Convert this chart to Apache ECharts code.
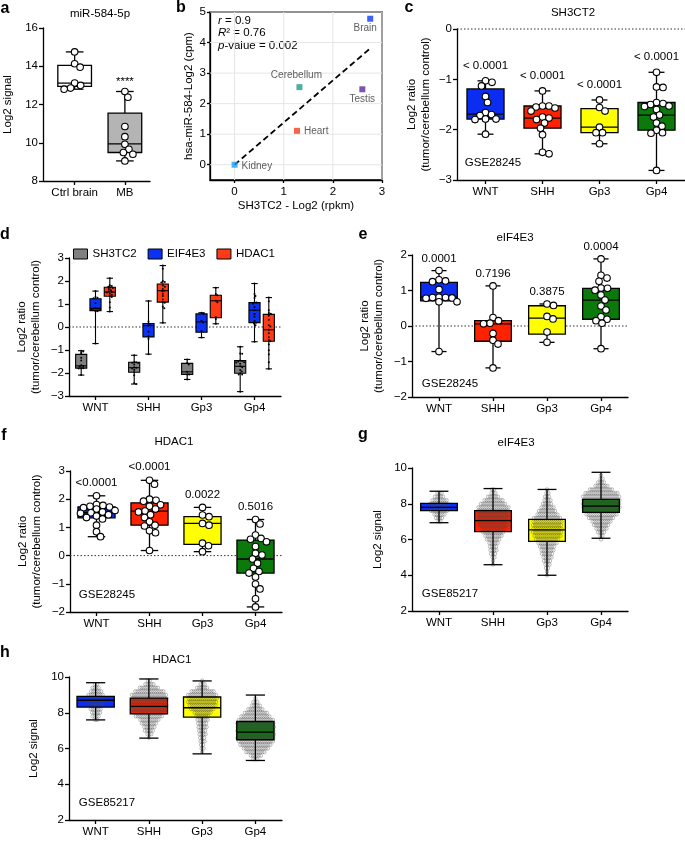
<!DOCTYPE html>
<html><head><meta charset="utf-8">
<script src="https://cdn.jsdelivr.net/npm/echarts@6/dist/echarts.min.js"></script>
<style>html,body{margin:0;padding:0;background:#fff}#c{width:685px;height:841px}</style>
</head><body><div id="c"></div><script>
// ---------------- data ----------------
const GROUPS = ['WNT', 'SHH', 'Gp3', 'Gp4'];

// a
const A_CATS = ['Ctrl brain', 'MB'];
const A_X = [0, 1];
const A_BOX = [[12.8, 12.95, 13.12, 14.05, 14.75], [9.05, 9.49, 9.94, 11.55, 12.68]];
const A_PTS = [[14.75, 14.13, 13.95, 13.12, 13.0, 12.86, 12.8], [12.68, 12.38, 10.85, 10.32, 9.92, 9.66, 9.49, 9.4, 9.05]];
const A_MARK = ['', '****'];

// b
const B_TISSUES = ['Brain', 'Cerebellum', 'Testis', 'Heart', 'Kidney'];
const B_X = [2.76, 1.32, 2.6, 1.27, 0];
const B_Y = [4.78, 2.54, 2.47, 1.11, 0];
const B_FIT_X = [0, 2.74];
const B_FIT_Y = [0, 3.78];
const B_TICKS_X = [0, 1, 2, 3];
const B_TICKS_Y = [0, 1, 2, 3, 4, 5];

// c  SH3TC2 (GSE28245)
const C_BOX = [[-2.09, -1.79, -1.69, -1.19, -1.03], [-2.48, -1.97, -1.77, -1.53, -1.23], [-2.28, -2.06, -1.95, -1.58, -1.41], [-2.81, -2.01, -1.71, -1.46, -0.86]];
const C_PTS = [
  [-1.03, -1.06, -1.13, -1.34, -1.46, -1.66, -1.7, -1.72, -1.79, -1.79, -1.8, -2.09],
  [-1.23, -1.53, -1.53, -1.55, -1.57, -1.63, -1.75, -1.77, -1.8, -1.87, -1.97, -2.1, -2.45, -2.48],
  [-1.41, -1.56, -1.63, -1.95, -2.06, -2.06, -2.28],
  [-0.86, -1.15, -1.16, -1.46, -1.48, -1.5, -1.53, -1.54, -1.6, -1.71, -1.75, -1.87, -1.93, -2.01, -2.06, -2.07, -2.81]];
const C_P = ['< 0.0001', '< 0.0001', '< 0.0001', '< 0.0001'];

// e  eIF4E3 (GSE28245)
const E_BOX = [[-0.72, 0.71, 0.81, 1.23, 1.56], [-1.18, -0.43, 0.06, 0.15, 1.13], [-0.46, -0.23, 0.22, 0.57, 0.62], [-0.64, 0.19, 0.73, 1.06, 1.89]];
const E_PTS = [
  [1.56, 1.3, 1.27, 1.25, 1.03, 0.81, 0.8, 0.8, 0.79, 0.78, 0.68, 0.68, -0.72],
  [1.13, 0.24, 0.15, 0.08, 0.06, -0.21, -0.4, -0.51, -1.18],
  [0.62, 0.58, 0.27, 0.2, -0.17, -0.46],
  [1.89, 1.43, 1.35, 1.26, 1.07, 1.06, 1.01, 0.87, 0.73, 0.56, 0.45, 0.26, 0.19, 0.15, 0.08, -0.64]];
const E_P = ['0.0001', '0.7196', '0.3875', '0.0004'];

// f  HDAC1 (GSE28245)
const F_BOX = [[0.67, 1.34, 1.52, 1.73, 2.12], [0.18, 1.08, 1.58, 1.87, 2.67], [0.14, 0.4, 1.14, 1.38, 1.71], [-1.82, -0.62, -0.12, 0.55, 1.28]];
const F_PTS = [
  [2.12, 1.81, 1.78, 1.75, 1.72, 1.7, 1.65, 1.6, 1.55, 1.52, 1.5, 1.45, 1.4, 1.35, 1.3, 1.08, 0.85, 0.67],
  [2.67, 2.53, 2.0, 1.96, 1.93, 1.8, 1.75, 1.65, 1.58, 1.55, 1.45, 1.35, 1.2, 1.08, 1.05, 0.88, 0.81, 0.18],
  [1.71, 1.44, 1.38, 1.14, 1.08, 0.44, 0.35, 0.14],
  [1.28, 1.12, 0.73, 0.61, 0.58, 0.49, 0.32, 0.08, 0.02, -0.12, -0.27, -0.45, -0.56, -0.62, -0.76, -1.01, -1.18, -1.53, -1.82]];
const F_P = ['<0.0001', '<0.0001', '0.0022', '0.5016'];

// d  combined
const D_GENES = ['SH3TC2', 'EIF4E3', 'HDAC1'];

// g  eIF4E3 (GSE85217): box stats + dot histogram (counts of samples per 0.2 bin)
const G_BOX = [[6.94, 7.61, 7.8, 8.02, 8.7], [4.59, 6.44, 7.06, 7.61, 8.85], [4.0, 5.89, 6.54, 7.13, 8.8], [6.07, 7.52, 7.87, 8.24, 9.76]];
const G_BINS = [9.6, 9.4, 9.2, 9.0, 8.8, 8.6, 8.4, 8.2, 8.0, 7.8, 7.6, 7.4, 7.2, 7.0, 6.8, 6.6, 6.4, 6.2, 6.0, 5.8, 5.6, 5.4, 5.2, 5.0, 4.8, 4.6, 4.4, 4.2, 4.0];
const G_COUNTS = [
  [0, 0, 0, 0, 0, 3, 5, 8, 10, 10, 9, 6, 4, 2, 0, 0, 0, 0, 0, 0, 0, 0, 0, 0, 0, 0, 0, 0, 0],
  [0, 0, 0, 0, 2, 3, 6, 10, 13, 16, 16, 16, 16, 16, 15, 13, 11, 9, 7, 5, 4, 4, 3, 2, 1, 1, 0, 0, 0],
  [0, 0, 0, 0, 1, 2, 3, 4, 5, 7, 9, 11, 14, 15, 15, 15, 15, 14, 12, 10, 8, 7, 6, 5, 4, 3, 2, 1, 1],
  [1, 2, 4, 7, 12, 17, 19, 19, 19, 19, 18, 16, 13, 10, 8, 6, 4, 2, 1, 0, 0, 0, 0, 0, 0, 0, 0, 0, 0]];

// h  HDAC1 (GSE85217)
const H_BOX = [[7.6, 8.32, 8.7, 8.92, 9.68], [6.58, 7.94, 8.36, 8.82, 9.89], [5.7, 7.76, 8.28, 8.88, 9.78], [5.33, 6.49, 6.92, 7.51, 8.99]];
const H_BINS = [9.8, 9.6, 9.4, 9.2, 9.0, 8.8, 8.6, 8.4, 8.2, 8.0, 7.8, 7.6, 7.4, 7.2, 7.0, 6.8, 6.6, 6.4, 6.2, 6.0, 5.8, 5.6, 5.4];
const H_COUNTS = [
  [0, 2, 4, 6, 8, 8, 8, 7, 6, 5, 4, 2, 0, 0, 0, 0, 0, 0, 0, 0, 0, 0, 0],
  [2, 5, 10, 15, 18, 18, 18, 18, 18, 17, 14, 10, 8, 6, 5, 3, 1, 0, 0, 0, 0, 0, 0],
  [1, 3, 6, 12, 15, 15, 15, 14, 12, 9, 7, 6, 5, 5, 4, 4, 3, 3, 2, 2, 1, 0, 0],
  [0, 0, 0, 0, 0, 1, 3, 5, 8, 12, 15, 18, 19, 19, 19, 19, 19, 18, 16, 13, 10, 6, 3]];

// ---------------- styles ----------------
const FONT = '"Liberation Sans", Arial, Helvetica, sans-serif';
const FS = 11.5;
const GROUP_COLORS = ['#0b2df2', '#ff2200', '#ffff00', '#0b7a0b'];
const A_COLORS = ['#ffffff', '#b4b4b4'];
const B_COLORS = ['#0b3cff', '#1f9c8c', '#5b2a9c', '#f2401c', '#1aa2f2'];
const B_LABEL = [
  {position: 'bottom', offset: [-5, -1]}, {position: 'top', offset: [-3, -1]},
  {position: 'bottom', offset: [0, -1]}, {position: 'right', offset: [1, 0]}, {position: 'right', offset: [1, 2]}];
const D_COLORS = ['#808080', '#0b32f2', '#ff3a14'];

const minus = v => String(v).replace('-', '\u2212');

function swarm(ys, minD, maxHalf) {
  const order = ys.map((y, i) => i).sort((a, b) => ys[a] - ys[b]);
  const placed = [];
  const xs = new Array(ys.length).fill(0);
  order.forEach(i => {
    let x = 0, found = false;
    for (let k = 0; k < 600; k++) {
      const c = k === 0 ? 0 : ((k % 2) ? 1 : -1) * Math.ceil(k / 2) * 0.5;
      if (Math.abs(c) > maxHalf) break;
      let ok = true;
      for (const p of placed) {
        const dx = c - p[0], dy = ys[i] - p[1];
        if (dx * dx + dy * dy < minD * minD) { ok = false; break; }
      }
      if (ok) { x = c; found = true; break; }
    }
    if (!found) x = 0;
    xs[i] = x; placed.push([x, ys[i]]);
  });
  return xs;
}

function boxSeries(o) {
  return {
    type: 'custom', name: o.name, xAxisIndex: o.axis, yAxisIndex: o.axis, z: 3, silent: true,
    itemStyle: {color: o.colors[0]},
    data: o.boxes.map((b, i) => [o.xs ? o.xs[i] : i].concat(b)),
    encode: {x: 0, y: [1, 2, 3, 4, 5]},
    renderItem: function (params, api) {
      const i = params.dataIndex;
      const xv = api.value(0);
      const band = api.size([1, 0])[0];
      const cx = api.coord([xv, 0])[0] + (o.offset || 0) * band;
      const Y = v => api.coord([xv, v])[1];
      const bw = o.boxFrac * band, cw = o.capFrac * band;
      const mn = api.value(1), q1 = api.value(2), md = api.value(3), q3 = api.value(4), mx = api.value(5);
      const lw = o.lineWidth || 1.3;
      const ch = [];
      const boxShape = {x: cx - bw / 2, y: Y(q3), width: bw, height: Y(q1) - Y(q3)};
      ch.push({type: 'rect', shape: boxShape, style: {fill: o.colors[i % o.colors.length]}});
      if (o.hist) {
        const counts = o.hist.counts[i];
        o.hist.bins.forEach((bv, j) => {
          const n = counts[j];
          const yy = Y(bv);
          const shift = (j % 2) ? o.hist.spacing / 2 : 0;
          for (let t = 0; t < n; t++) {
            ch.push({type: 'circle', shape: {cx: cx + (t - (n - 1) / 2) * o.hist.spacing + shift * (n > 1 ? 1 : 0) - shift / 2 * (n > 1 ? 1 : 0), cy: yy, r: o.hist.r},
              style: {fill: 'none', stroke: 'rgba(70,70,70,0.6)', lineWidth: 0.6}});
          }
        });
      }
      const L = (x1, y1, x2, y2) => ({type: 'line', shape: {x1: x1, y1: y1, x2: x2, y2: y2}, style: {stroke: '#000', lineWidth: lw}});
      ch.push(L(cx, Y(mx), cx, Y(q3)), L(cx, Y(q1), cx, Y(mn)),
        L(cx - cw / 2, Y(mx), cx + cw / 2, Y(mx)), L(cx - cw / 2, Y(mn), cx + cw / 2, Y(mn)));
      ch.push({type: 'rect', shape: boxShape, style: {fill: 'none', stroke: '#000', lineWidth: lw}});
      ch.push(L(cx - bw / 2, Y(md), cx + bw / 2, Y(md)));
      if (o.points) {
        const ys = o.points[i].map(Y);
        const xs = swarm(ys, o.dot.r * 2 * (o.dot.sep || 0.95), bw / 2);
        ys.forEach((yy, k) => ch.push({type: 'circle', shape: {cx: cx + xs[k], cy: yy, r: o.dot.r},
          style: {fill: o.dot.fill, stroke: o.dot.stroke, lineWidth: o.dot.lw}}));
      }
      if (o.labels && o.labels[i]) {
        ch.push({type: 'text', x: cx, y: Y(mx) - o.labelGap,
          style: {text: o.labels[i], align: 'center', verticalAlign: 'bottom', textAlign: 'center', textVerticalAlign: 'bottom',
            fontSize: o.labelSize || FS, fontFamily: FONT, fill: '#000'}});
      }
      return {type: 'group', children: ch};
    }
  };
}

function zeroLine(ax) {
  return {type: 'custom', xAxisIndex: ax, yAxisIndex: ax, z: 2, silent: true, data: [[0, 0]], encode: {x: 0, y: 1},
    renderItem: function (p, api) {
      const cs = p.coordSys; const y = api.coord([0, 0])[1];
      return {type: 'line', shape: {x1: cs.x, y1: y, x2: cs.x + cs.width, y2: y},
        style: {stroke: '#333', lineWidth: 1, lineDash: [1.5, 2]}};
    }};
}

const AXLINE = {show: true, onZero: false, lineStyle: {color: '#000', width: 1.3}};
const AXTICK = {show: true, length: 4, lineStyle: {color: '#000', width: 1.3}};
const LBL = {color: '#000', fontSize: FS, fontFamily: FONT};

function catX(gi) {
  return {type: 'category', gridIndex: gi, data: GROUPS, axisLine: AXLINE,
    axisTick: Object.assign({alignWithLabel: true}, AXTICK), axisLabel: Object.assign({margin: 6}, LBL), splitLine: {show: false}};
}
function valY(gi, min, max, interval, name, gap) {
  const ax = {type: 'value', gridIndex: gi, min: min, max: max, axisLine: AXLINE, axisTick: AXTICK,
    axisLabel: Object.assign({margin: 5, formatter: minus}, LBL), splitLine: {show: false},
    name: name, nameLocation: 'middle', nameGap: gap, nameTextStyle: {color: '#000', fontSize: FS, fontFamily: FONT, lineHeight: 14}};
  if (interval) ax.interval = interval;
  return ax;
}

const RATIO = 'Log2 ratio\n(tumor/cerebellum control)';
const grids = [
  {left: 42, top: 28, width: 108, height: 153},
  {left: 210, top: 12, width: 172, height: 168, show: true, borderColor: '#000', borderWidth: 1.3, backgroundColor: 'transparent'},
  {left: 457, top: 29, width: 228, height: 151},
  {left: 69, top: 258, width: 212, height: 138},
  {left: 412, top: 255, width: 216, height: 142},
  {left: 70, top: 471, width: 212, height: 141},
  {left: 412, top: 468, width: 216, height: 143},
  {left: 69, top: 677, width: 213, height: 143}
];

const xAxes = [
  {type: 'value', gridIndex: 0, min: -0.63, max: 1.5, axisLine: AXLINE,
    axisTick: Object.assign({customValues: A_X}, AXTICK),
    axisLabel: Object.assign({customValues: A_X, margin: 6, formatter: function (v) { return A_CATS[Math.round(v)] || ''; }}, LBL), splitLine: {show: false}},
  {type: 'value', gridIndex: 1, min: -0.5, max: 3, axisLine: AXLINE,
    axisTick: Object.assign({customValues: B_TICKS_X}, AXTICK, {length: 3}),
    axisLabel: Object.assign({customValues: B_TICKS_X, margin: 6}, LBL), splitLine: {show: false},
    name: 'SH3TC2 - Log2 (rpkm)', nameLocation: 'middle', nameGap: 20, nameTextStyle: {color: '#000', fontSize: FS, fontFamily: FONT}},
  catX(2), catX(3), catX(4), catX(5), catX(6), catX(7)
];
const yB = valY(1, -0.5, 5, null, 'hsa-miR-584-Log2 (cpm)', 14);
yB.axisTick = Object.assign({customValues: B_TICKS_Y}, AXTICK, {length: 3});
yB.axisLabel = Object.assign({customValues: B_TICKS_Y, margin: 4}, LBL);
const yAxes = [
  valY(0, 8, 16, 2, 'Log2 signal', 28),
  yB,
  valY(2, -3, 0, 1, RATIO, 24),
  valY(3, -3, 3, 1, RATIO, 26),
  valY(4, -2, 2, 1, RATIO, 26),
  valY(5, -2, 3, 1, RATIO, 26),
  valY(6, 2, 10, 2, 'Log2 signal', 27),
  valY(7, 2, 10, 2, 'Log2 signal', 28)
];

const BIGDOT = {r: 3.3, fill: '#fff', stroke: '#000', lw: 1.1};
const series = [];
// a
series.push(boxSeries({axis: 0, boxes: A_BOX, xs: A_X, points: A_PTS, colors: A_COLORS, boxFrac: 0.67, capFrac: 0.35,
  dot: BIGDOT, labels: A_MARK, labelGap: 4}));
// b
series.push({type: 'custom', xAxisIndex: 1, yAxisIndex: 1, z: 1, silent: true, data: [[0, 0]], encode: {x: 0, y: 1},
  renderItem: function (p, api) {
    const cs = p.coordSys; const ch = [];
    B_TICKS_X.forEach(function (v) { const x = api.coord([v, 0])[0]; ch.push({type: 'line', shape: {x1: x, y1: cs.y, x2: x, y2: cs.y + cs.height}, style: {stroke: '#e6e6e6', lineWidth: 1}}); });
    B_TICKS_Y.forEach(function (v) { const y = api.coord([0, v])[1]; ch.push({type: 'line', shape: {x1: cs.x, y1: y, x2: cs.x + cs.width, y2: y}, style: {stroke: '#e6e6e6', lineWidth: 1}}); });
    return {type: 'group', children: ch};
  }});
series.push({type: 'line', xAxisIndex: 1, yAxisIndex: 1, z: 3, symbol: 'none', silent: true,
  data: B_FIT_X.map(function (x, i) { return [x, B_FIT_Y[i]]; }),
  lineStyle: {color: '#000', width: 1.8, type: [6, 3.5]}});
series.push({type: 'scatter', xAxisIndex: 1, yAxisIndex: 1, z: 4, symbol: 'rect', symbolSize: 6, silent: true,
  data: B_X.map(function (x, i) {
    return {value: [x, B_Y[i]], name: B_TISSUES[i], itemStyle: {color: B_COLORS[i]},
      label: Object.assign({show: true, formatter: '{b}', color: '#333', fontSize: 10, fontFamily: FONT, distance: 3}, B_LABEL[i])};
  })});
// c
series.push(zeroLine(2));
series.push(boxSeries({axis: 2, boxes: C_BOX, points: C_PTS, colors: GROUP_COLORS, boxFrac: 0.65, capFrac: 0.28,
  dot: BIGDOT, labels: C_P, labelGap: 9}));
// d
const D_BOXES = [C_BOX, E_BOX, F_BOX];
const D_PTS = [C_PTS, E_PTS, F_PTS];
series.push(zeroLine(3));
[0, 1, 2].forEach(function (k) {
  series.push(boxSeries({axis: 3, name: D_GENES[k], boxes: D_BOXES[k], points: D_PTS[k],
    colors: [D_COLORS[k]], offset: [-0.27, 0, 0.27][k], boxFrac: 0.21, capFrac: 0.12, lineWidth: 1.1,
    dot: {r: 1, fill: '#000', stroke: 'none', lw: 0, sep: 1}}));
});
// e
series.push(zeroLine(4));
series.push(boxSeries({axis: 4, boxes: E_BOX, points: E_PTS, colors: GROUP_COLORS, boxFrac: 0.68, capFrac: 0.28,
  dot: BIGDOT, labels: E_P, labelGap: 6}));
// f
series.push(zeroLine(5));
series.push(boxSeries({axis: 5, boxes: F_BOX, points: F_PTS, colors: GROUP_COLORS, boxFrac: 0.7, capFrac: 0.33,
  dot: BIGDOT, labels: F_P, labelGap: 7}));
// g
series.push(boxSeries({axis: 6, boxes: G_BOX, colors: GROUP_COLORS, boxFrac: 0.68, capFrac: 0.35,
  hist: {bins: G_BINS, counts: G_COUNTS, spacing: 2, r: 1.7}}));
// h
series.push(boxSeries({axis: 7, boxes: H_BOX, colors: GROUP_COLORS, boxFrac: 0.7, capFrac: 0.36,
  hist: {bins: H_BINS, counts: H_COUNTS, spacing: 2, r: 1.7}}));

function T(text, x, y, opt) {
  opt = opt || {};
  const st = Object.assign({text: text, fill: '#000', fontFamily: FONT,
    fontSize: opt.size || FS, fontWeight: opt.weight || 'normal', align: opt.align || 'center', verticalAlign: 'middle',
    textAlign: opt.align || 'center', textVerticalAlign: 'middle'}, opt.extra || {});
  return {type: 'text', x: x, y: y, silent: true, style: st};
}
const RICH = {i: {fontStyle: 'italic', fontSize: FS, fontFamily: FONT}};
const graphics = [
  T('a', 5, 9, {size: 16, weight: 'bold'}), T('b', 181, 8, {size: 16, weight: 'bold'}),
  T('c', 409, 8, {size: 16, weight: 'bold'}), T('d', 5, 235, {size: 16, weight: 'bold'}),
  T('e', 363, 235, {size: 16, weight: 'bold'}), T('f', 4, 436, {size: 16, weight: 'bold'}),
  T('g', 363, 435, {size: 16, weight: 'bold'}), T('h', 5, 653, {size: 16, weight: 'bold'}),
  T('miR-584-5p', 100, 14), T('SH3CT2', 573, 13), T('eIF4E3', 515, 238), T('HDAC1', 174, 442),
  T('eIF4E3', 516, 443), T('HDAC1', 172, 660),
  T('GSE28245', 493, 163), T('GSE28245', 450, 384), T('GSE28245', 107, 595),
  T('GSE85217', 450, 594), T('GSE85217', 107, 803),
  T('{i|r} = 0.9', 218, 21, {align: 'left', extra: {rich: RICH}}),
  T('{i|R}\u00b2 = 0.76', 218, 33, {align: 'left', extra: {rich: RICH}}),
  T('{i|p}-value = 0.002', 218, 46, {align: 'left', extra: {rich: RICH}})
];

const chart = echarts.init(document.getElementById('c'), null, {renderer: 'canvas'});
chart.setOption({
  animation: false,
  backgroundColor: '#fff',
  textStyle: {fontFamily: FONT},
  grid: grids,
  xAxis: xAxes,
  yAxis: yAxes,
  legend: {data: D_GENES, left: 68, top: 243, itemWidth: 14, itemHeight: 10, itemGap: 11, icon: 'rect',
    itemStyle: {borderColor: '#000', borderWidth: 1}, textStyle: {color: '#000', fontSize: FS, fontFamily: FONT}, selectedMode: false},
  series: series,
  graphic: graphics
});
</script></body></html>
